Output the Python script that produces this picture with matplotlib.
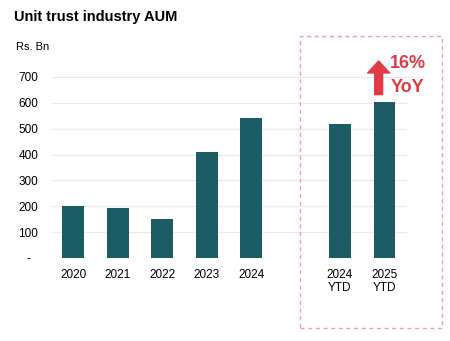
import matplotlib.pyplot as plt
from matplotlib.patches import Rectangle

plt.rcParams['font.family'] = ['Liberation Sans', 'DejaVu Sans']

# Unit trust industry AUM, Rs. Bn
categories = ["2020", "2021", "2022", "2023", "2024", "2024\nYTD", "2025\nYTD"]
positions = [0, 1, 2, 3, 4, 6, 7]
aum = [200, 195, 150, 410, 543, 519, 603]
yticks = [0, 100, 200, 300, 400, 500, 600, 700]
ytick_labels = ["-", "100", "200", "300", "400", "500", "600", "700"]

bar_color = "#1b5c65"
red = "#e03c45"

fig = plt.figure(figsize=(4.5, 3.41), dpi=100)
ax = fig.add_axes([0.1156, 0.2434, 0.789, 0.5308])

ax.bar(positions, aum, width=0.49, color=bar_color, zorder=3)

ax.set_xlim(-0.48, 7.51)
ax.set_ylim(0, 700)
ax.set_yticks(yticks)
ax.set_yticklabels(ytick_labels, fontsize=8.5, ha="center")
ax.set_xticks(positions)
ax.set_xticklabels(categories, fontsize=8.5, linespacing=1.15)
ax.tick_params(axis="y", length=0, pad=17)
ax.tick_params(axis="x", length=0, pad=8)
ax.grid(axis="y", color="#eaeaea", linewidth=0.9, zorder=0)
for s in ax.spines.values():
    s.set_visible(False)

fig.text(0.031, 0.95, "Unit trust industry AUM", fontsize=10.5, fontweight="bold",
         va="center", ha="left")
fig.text(0.036, 0.862, "Rs. Bn", fontsize=8, va="center", ha="left")

# growth arrow above the 2025 YTD bar
ax.annotate("", xy=(6.87, 762), xytext=(6.87, 632), annotation_clip=False,
            arrowprops=dict(arrowstyle="simple,head_width=2.2,head_length=1.2,tail_width=0.8",
                            color=red, mutation_scale=7.2, shrinkA=0, shrinkB=0))
ax.text(7.13, 752, "16%", color=red, fontsize=13, fontweight="bold",
        va="center", ha="left", clip_on=False)
ax.text(7.13, 660, "YoY", color=red, fontsize=13, fontweight="bold",
        va="center", ha="left", clip_on=False)

# dashed box around the year-to-date bars
box = Rectangle((0.667, 0.038), 0.3156, 0.856, transform=fig.transFigure,
                fill=False, edgecolor="#e8a3b3", linestyle=(0, (3, 2.5)), linewidth=1.0)
fig.patches.append(box)

fig.savefig("out.png", dpi=100)
